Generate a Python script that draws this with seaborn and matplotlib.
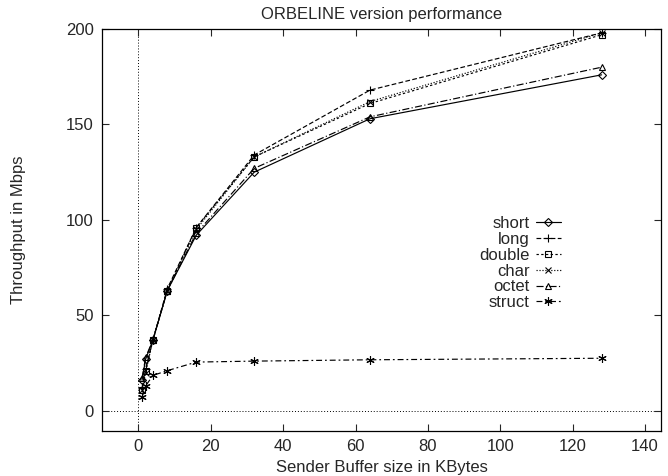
import matplotlib
matplotlib.use("Agg")
import matplotlib.pyplot as plt
import seaborn as sns
import pandas as pd

sns.set_style("ticks")
plt.rcParams['font.family'] = ['Liberation Sans', 'DejaVu Sans']

buffer_kb = [1, 2, 4, 8, 16, 32, 64, 128]
short = [16, 27, 37, 63, 92, 125, 153, 176]
long_ = [12, 22, 37, 64, 96, 134, 168, 198]
double = [11, 21, 37, 63, 96, 133, 161, 197]
char = [11, 20, 37, 63, 95, 133, 162, 198]
octet = [17, 28, 37, 63, 93, 127, 154, 180]
struct = [7, 13, 18.5, 21, 25.5, 26, 26.7, 27.5]

series_names = ["short", "long", "double", "char", "octet", "struct"]
series_vals = [short, long_, double, char, octet, struct]

rows = []
for n, vals in zip(series_names, series_vals):
    for x, y in zip(buffer_kb, vals):
        rows.append({"x": x, "y": y, "series": n})
df = pd.DataFrame(rows)

markers = {"short": "D", "long": "+", "double": "s", "char": "x",
           "octet": "^", "struct": (6, 2, 0)}
dashes = {"short": "", "long": (4, 2), "double": (2, 2), "char": (1, 1.5),
          "octet": (6, 2, 1, 2), "struct": (5, 2.5, 1.5, 2.5)}
msizes = {"short": 4, "long": 6, "double": 5, "char": 5, "octet": 5, "struct": 6}

FS = 12

fig, ax = plt.subplots(figsize=(6.68, 4.76), dpi=100)
fig.subplots_adjust(left=0.153, right=0.990, top=0.939, bottom=0.095)

for n in series_names:
    sub = df[df["series"] == n]
    sns.lineplot(data=sub, x="x", y="y", ax=ax, color="black", linewidth=0.85,
                 marker=markers[n], markersize=msizes[n], markerfacecolor="none",
                 markeredgecolor="black", markeredgewidth=0.8,
                 label=n, legend=False)
    if dashes[n] == "":
        ax.lines[-1].set_linestyle("-")
    else:
        ax.lines[-1].set_dashes(dashes[n])

ax.axvline(0, color="black", linestyle=(0, (1, 2)), linewidth=0.7, zorder=0)
ax.axhline(0, color="black", linestyle=(0, (1, 2)), linewidth=0.7, zorder=0)

ax.set_xlim(-10, 144.5)
ax.set_ylim(-10.5, 200)
ax.set_xticks(range(0, 141, 20))
ax.set_yticks(range(0, 201, 50))
ax.tick_params(direction="in", top=True, right=True, labelsize=FS, length=5,
               width=0.8, pad=6)
for s in ax.spines.values():
    s.set_visible(True)
    s.set_linewidth(0.9)
    s.set_color("black")

ax.set_xlabel("Sender Buffer size in KBytes", fontsize=FS, labelpad=4)
ax.set_ylabel("Throughput in Mbps", fontsize=FS, labelpad=29)
ax.set_title("ORBELINE version performance", fontsize=FS, pad=7.5)

leg = ax.legend(loc="upper right", bbox_to_anchor=(0.835, 0.555), frameon=False,
                markerfirst=False, fontsize=FS, handlelength=1.5,
                labelspacing=0.05, handletextpad=0.35, borderpad=0)
for t in leg.get_texts():
    t.set_ha("right")

fig.savefig("out.png", dpi=100)
